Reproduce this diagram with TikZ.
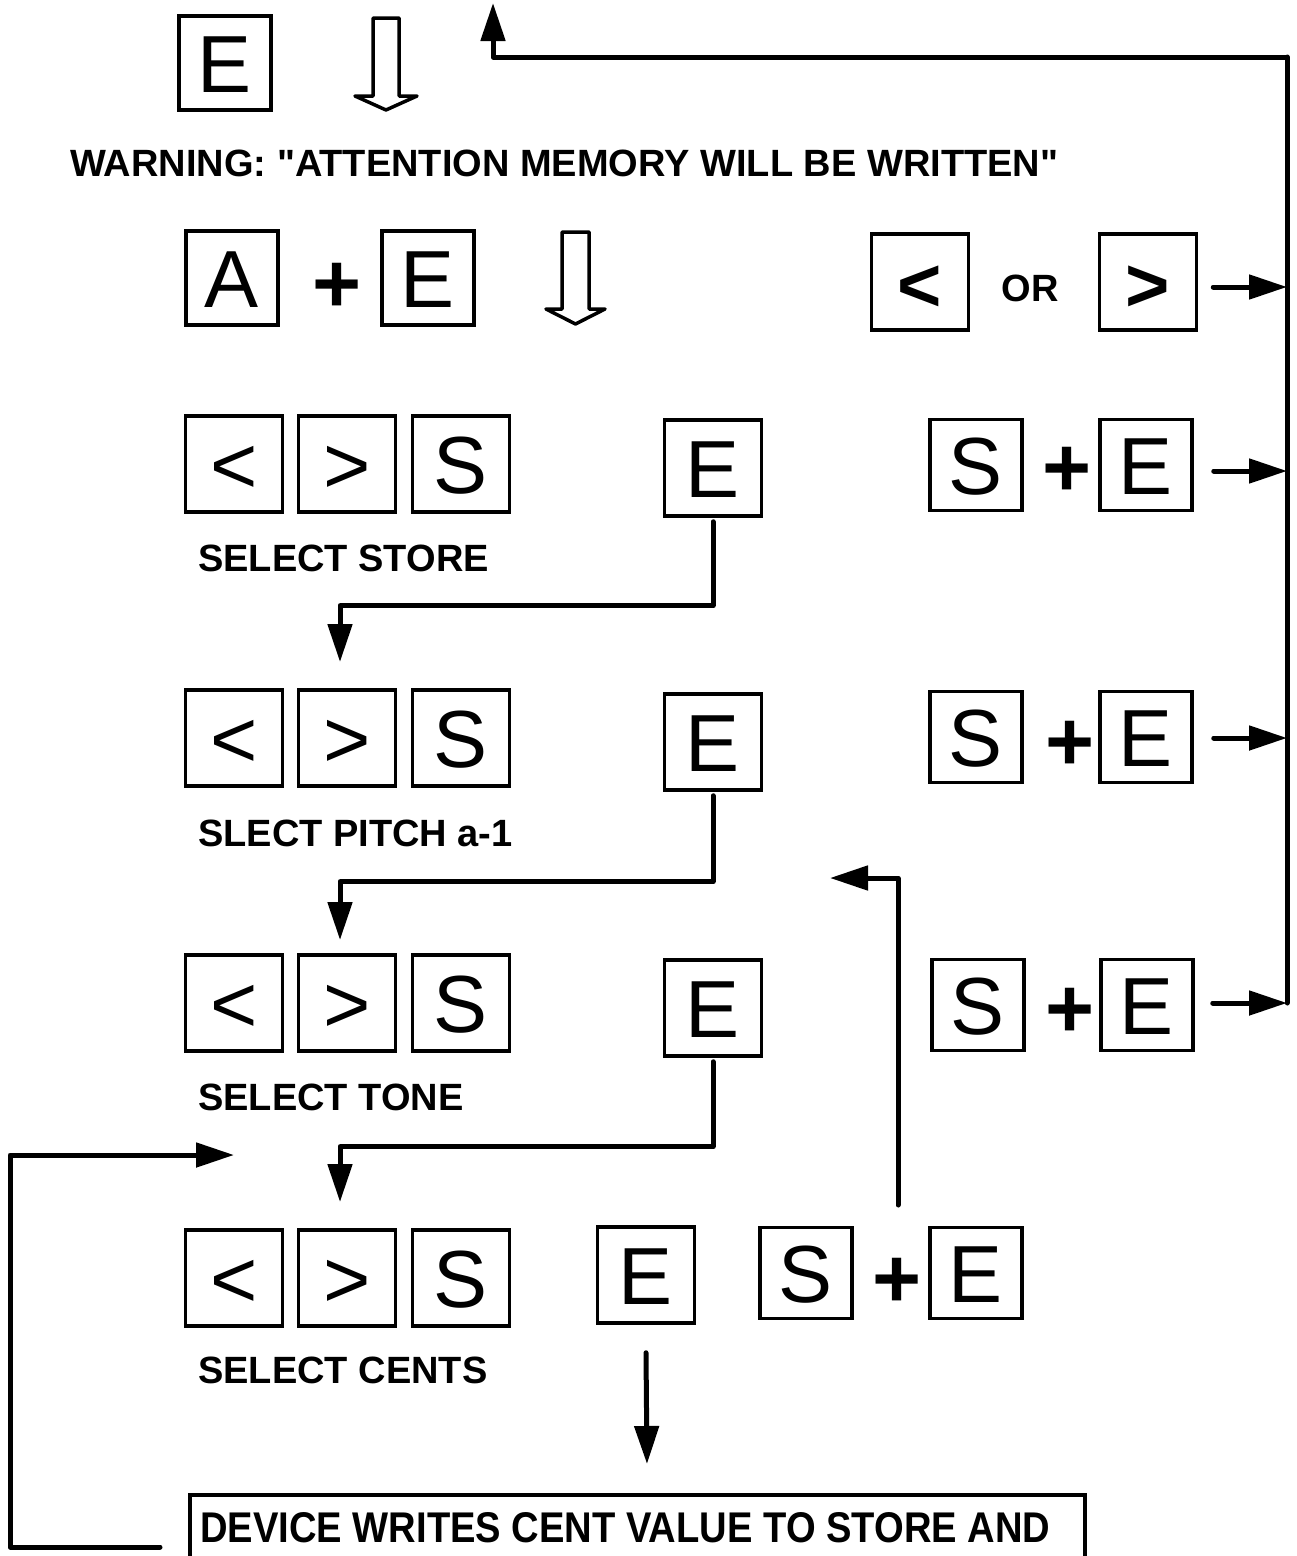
\documentclass[tikz,border=0pt]{standalone}
\usepackage{fontspec}
\usepackage{graphicx}
\setmainfont{Liberation Sans}[Ligatures=TeXOff]
\usetikzlibrary{arrows.meta}
\newcommand\keyfont{\fontsize{81}{81}\selectfont}
\newcommand\lblfont{\fontsize{38}{38}\selectfont\bfseries}
\newcommand\plusfont{\fontsize{84}{84}\selectfont\bfseries}
\tikzset{
  key/.style={draw, line width=3.5pt, inner sep=0pt, minimum width=92pt,
    minimum height=94pt, text height=58pt, text depth=0pt, font=\keyfont},
  bigkey/.style={key, minimum width=97pt, minimum height=96pt},
  plussign/.style={inner sep=0pt, font=\plusfont},
  lbl/.style={anchor=base west, inner sep=0pt, font=\lblfont},
  conn/.style={line width=5pt, line join=round, line cap=round,
    -{Triangle[length=38pt,width=24pt]}},
  hollow/.style={draw, line width=3.5pt, line join=round},
}
\begin{document}
\begin{tikzpicture}[x=1pt,y=-1pt]
\clip (0,0) rectangle (1297,1556);
\fill[white] (0,0) rectangle (1297,1556);

% --- entry: E, then A + E
\node[key] (eTop) at (225,63) {E};
\draw[hollow] (373,18) -- (373,96) -- (355,96) -- (386,110) -- (417,96)
  -- (399,96) -- (399,18) -- cycle;
\node[lbl] (warn) at (70,176)
  {WARNING: "ATTENTION MEMORY WILL BE WRITTEN"};

\node[key] (keyA) at (232,278) {A};
\node[plussign] (plusA) at (337,288) {+};
\node[key] (keyE1) at (428,278) {E};
\draw[hollow] (562,232) -- (562,309) -- (546,309) -- (575.5,324) -- (605,309)
  -- (589,309) -- (589,232) -- cycle;

% --- return keys on the right
\node[bigkey, font=\fontsize{76}{76}\selectfont\bfseries] (lt0) at (920,282) {<};
\node[font=\lblfont, inner sep=0pt] (or0) at (1030,288) {OR};
\node[bigkey, font=\fontsize{76}{76}\selectfont\bfseries] (gt0) at (1148,282) {>};

\node[key, minimum height=91pt] (s3r) at (976,465) {S};
\node[plussign] (p3r) at (1067,472) {+};
\node[key, minimum height=91pt] (e3r) at (1146,465) {E};

\node[key, minimum height=91pt] (s4r) at (976,737) {S};
\node[plussign] (p4r) at (1070,746) {+};
\node[key, minimum height=91pt] (e4r) at (1146,737) {E};

\node[key, minimum height=91pt] (s5r) at (978,1005) {S};
\node[plussign] (p5r) at (1070,1013) {+};
\node[key, minimum height=91pt] (e5r) at (1147,1005) {E};

% --- step 1: store
\node[bigkey] (lt3) at (234,464) {<};
\node[bigkey] (gt3) at (347,464) {>};
\node[bigkey] (s3) at (461,464) {S};
\node[bigkey] (e3) at (713,468) {E};
\node[lbl] (l3) at (198,571) {SELECT STORE};

% --- step 2: pitch
\node[bigkey] (lt4) at (234,738) {<};
\node[bigkey] (gt4) at (347,738) {>};
\node[bigkey] (s4) at (461,738) {S};
\node[bigkey] (e4) at (713,742) {E};
\node[lbl] (l4) at (198,846) {SLECT PITCH a-1};

% --- step 3: tone
\node[bigkey] (lt5) at (234,1003) {<};
\node[bigkey] (gt5) at (347,1003) {>};
\node[bigkey] (s5) at (461,1003) {S};
\node[bigkey] (e5) at (713,1008) {E};
\node[lbl] (l5) at (198,1110) {SELECT TONE};

% --- step 4: cents
\node[bigkey] (lt6) at (234,1278) {<};
\node[bigkey] (gt6) at (347,1278) {>};
\node[bigkey] (s6) at (461,1278) {S};
\node[bigkey] (e6) at (646,1275) {E};
\node[key, minimum height=91pt] (s6r) at (806,1273) {S};
\node[plussign] (p6r) at (897,1283) {+};
\node[key, minimum height=91pt] (e6r) at (976,1273) {E};
\node[lbl] (l6) at (198,1383) {SELECT CENTS};

% --- result box
\node[draw, line width=3.5pt, anchor=north west, minimum width=895pt,
  minimum height=120pt] (devbox) at (188,1493) {};
\node[anchor=base west, inner sep=0pt] (devtext) at (200,1542)
  {\resizebox{850pt}{30pt}{\bfseries DEVICE WRITES CENT VALUE TO STORE AND}};

% --- flow between steps
\coordinate (t3) at (340,662);
\coordinate (t4) at (340,940);
\coordinate (t5) at (340,1202);
\draw[conn] ([yshift=-4pt]e3.south) -- ++(0,84) -| (t3);
\draw[conn] ([yshift=-4pt]e4.south) -- ++(0,86) -| (t4);
\draw[conn] ([yshift=-4pt]e5.south) -- ++(0,85) -| (t5);

\coordinate (d6tip) at (647,1464);
\draw[conn] ([yshift=-28pt]e6.south) -- (d6tip);

\coordinate (up6) at (898,1205);
\coordinate (up6tip) at (830,878);
\draw[conn] (up6) |- (up6tip);

\coordinate (lp0) at (160,1547);
\coordinate (lptip) at (234,1155);
\draw[conn] (lp0) -- ++(-150,0) |- (lptip);

% --- right rail back to the start
\coordinate (railtop) at (1287,57);
\coordinate (uptip) at (493,3);
\coordinate (a0) at ([xshift=15pt,yshift=-5pt]gt0.east);
\coordinate (a3) at ([xshift=20pt,yshift=-6pt]e3r.east);
\coordinate (a4) at ([xshift=20pt,yshift=-1pt]e4r.east);
\coordinate (a5) at ([xshift=18pt,yshift=2pt]e5r.east);
\draw[line width=5pt, line join=round, line cap=round] (a5 -| railtop) -- (railtop);
\draw[conn] (railtop) -| (uptip);
\draw[conn] (a0) -- (a0 -| railtop);
\draw[conn] (a3) -- (a3 -| railtop);
\draw[conn] (a4) -- (a4 -| railtop);
\draw[conn] (a5) -- (a5 -| railtop);
\end{tikzpicture}
\end{document}
